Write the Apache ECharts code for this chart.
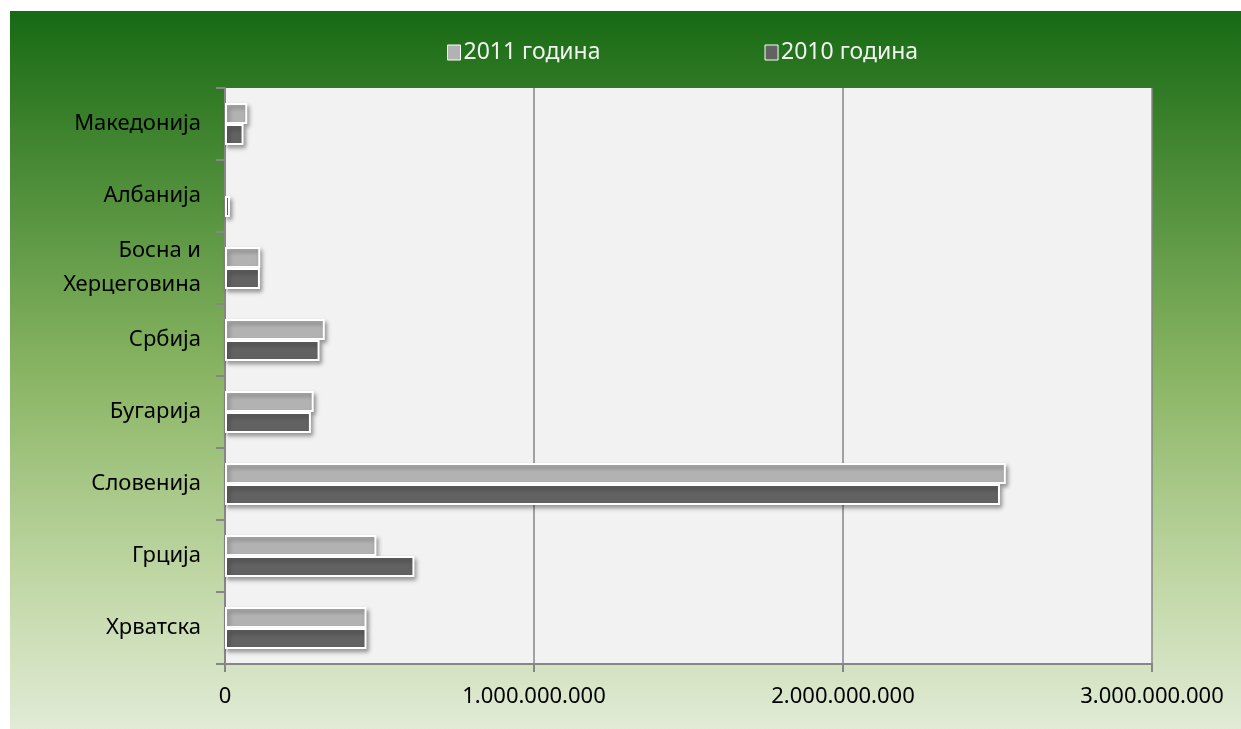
<!DOCTYPE html>
<html><head><meta charset="utf-8">
<script src="https://cdn.jsdelivr.net/npm/echarts@6/dist/echarts.min.js"></script>
<style>html,body{margin:0;padding:0;background:#fff;}#c{width:1241px;height:729px;}</style>
</head><body><div id="c"></div>
<script>
const categories = ['Македонија','Албанија','Босна и\nХерцеговина','Србија','Бугарија','Словенија','Грција','Хрватска'];
const series2011 = [72000000, 0, 114000000, 323000000, 287000000, 2527000000, 490000000, 458000000];
const series2010 = [60000000, 16000000, 113000000, 306000000, 278000000, 2508000000, 613000000, 458000000];
const seriesNames = ['2011 година','2010 година'];
const xTicks = [0, 1000000000, 2000000000, 3000000000];

function fmt(v){ return String(Math.round(v)).replace(/\B(?=(\d{3})+(?!\d))/g,'.'); }
function prep(arr){ return arr.map(v => v === 0 ? {value: v, itemStyle: {borderWidth: 0, shadowBlur: 0, shadowOffsetX: 0, shadowOffsetY: 0}} : v); }

const FONT = 'Noto Sans';
const chart = echarts.init(document.getElementById('c'));
const barStyle = (color) => ({
  color: color, borderColor: '#ffffff', borderWidth: 2,
  shadowColor: 'rgba(0,0,0,0.35)', shadowBlur: 4, shadowOffsetX: 2, shadowOffsetY: 3
});
chart.setOption({
  animation: false,
  graphic: [{
    type: 'rect', z: -10, silent: true,
    shape: {x: 10, y: 11, width: 1231, height: 718},
    style: {fill: new echarts.graphic.LinearGradient(0,0,0,1,[
      {offset:0, color:'#176a14'},
      {offset:0.15, color:'#3a802b'},
      {offset:0.5, color:'#88b462'},
      {offset:0.8, color:'#c2d8a7'},
      {offset:1, color:'#e1ebd6'}
    ])}
  }],
  legend: {
    top: 36, left: 442, itemGap: 164, itemWidth: 13, itemHeight: 15, icon: 'rect',
    textStyle: {color: '#f2f2f2', fontSize: 23, fontFamily: FONT, padding: [0,0,0,-2]},
    data: seriesNames.map((n,i)=>({name:n, itemStyle:{color: i===0?'#b2b2b2':'#626262', borderColor:'#fff', borderWidth:1}}))
  },
  grid: {left: 225, right: 89, top: 88, bottom: 65, containLabel: false, show: true, backgroundColor: '#f2f2f2', borderWidth: 0},
  xAxis: {
    type: 'value', min: 0, max: 3000000000, interval: 1000000000,
    axisLine: {show: true, lineStyle: {color: '#868686', width: 2}},
    axisTick: {show: true, length: 8, lineStyle: {color: '#868686', width: 2}},
    splitLine: {show: true, lineStyle: {color: '#868686', width: 1.5}},
    axisLabel: {color: '#000', fontSize: 22, fontFamily: FONT, margin: 22, formatter: v => fmt(v)}
  },
  yAxis: {
    type: 'category', inverse: true, data: categories,
    axisLine: {show: true, lineStyle: {color: '#868686', width: 2}},
    axisTick: {show: true, length: 9, lineStyle: {color: '#868686', width: 2}},
    axisLabel: {color: '#000', fontSize: 22, fontFamily: FONT, margin: 24, lineHeight: 34, align: 'right'}
  },
  series: [
    {name: seriesNames[0], type: 'bar', data: prep(series2011), barWidth: 21, barGap: '0%', itemStyle: barStyle('#b2b2b2')},
    {name: seriesNames[1], type: 'bar', data: prep(series2010), barWidth: 21, barGap: '0%', itemStyle: barStyle('#626262')}
  ]
});
</script></body></html>
